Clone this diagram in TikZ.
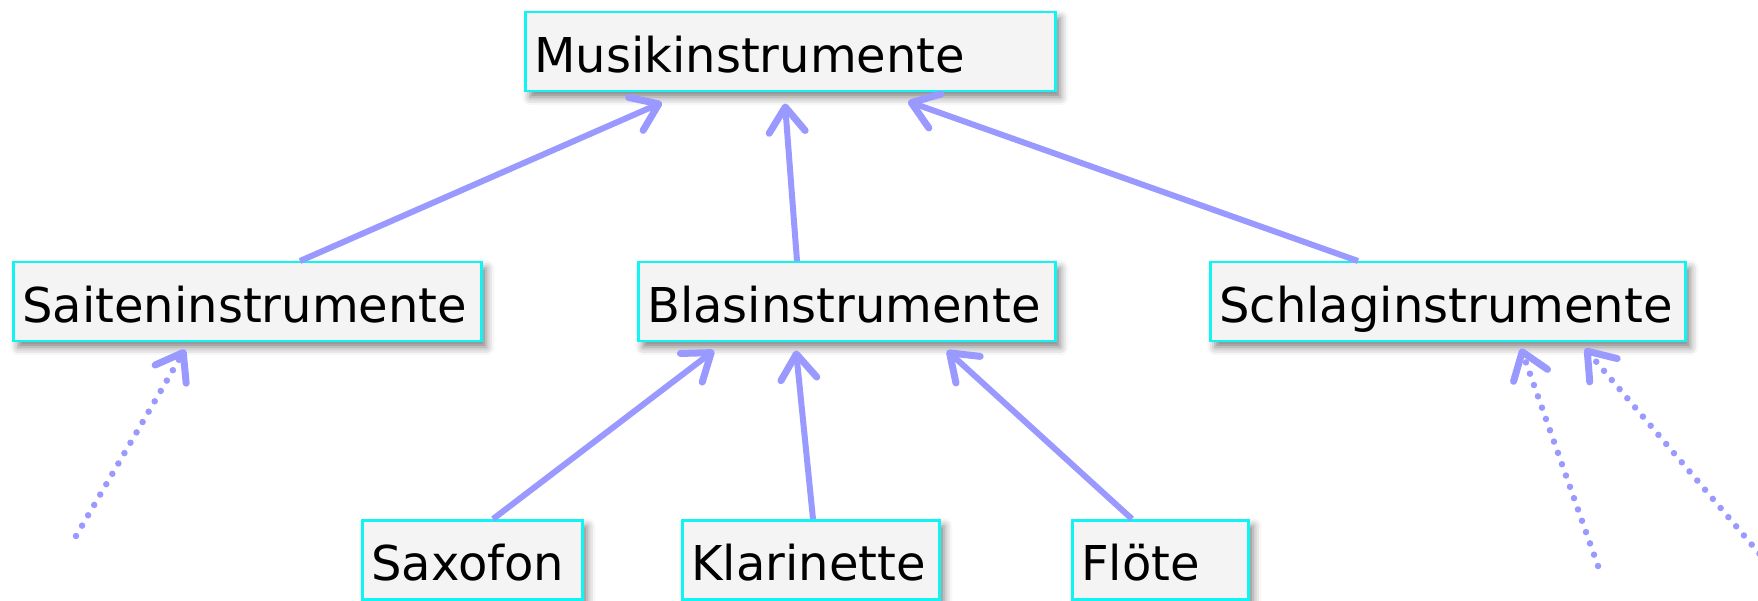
\documentclass[tikz,border=0pt]{standalone}
\usepackage{fontspec}
\setmainfont{DejaVu Sans}
\usetikzlibrary{arrows.meta,calc,shadows.blur}
\definecolor{edgeblue}{HTML}{9999FF}
\definecolor{boxcyan}{HTML}{10F4F4}
\definecolor{boxfill}{HTML}{F4F4F4}
\begin{document}
\begin{tikzpicture}[x=1pt,y=1pt,
  cls/.style={draw=boxcyan, line width=2.5pt, fill=boxfill, anchor=north west,
    minimum height=79pt, inner xsep=9pt, inner ysep=0pt,
    text height=41pt, text depth=0pt, align=left,
    font=\fontsize{48}{56}\selectfont,
    blur shadow={shadow xshift=5pt, shadow yshift=-6pt,
      shadow blur radius=8pt, shadow opacity=50}},
  inherit/.style={draw=edgeblue, line width=6pt,
    -{Straight Barb[length=25pt,width=36pt,line width=7pt,round]}},
  dep/.style={inherit, line width=6.5pt, dash pattern=on 0pt off 12pt, line cap=round}]
\useasboundingbox (0,0) rectangle (1758,600);

% class boxes
\node[cls, text width=512pt] (musik)  at (524,589)  {Musikinstrumente};
\node[cls, text width=450pt] (sait)   at (12,339)   {Saiteninstrumente};
\node[cls, text width=399pt] (blas)   at (637,339)  {Blasinstrumente};
\node[cls, text width=457pt] (schlag) at (1209,339) {Schlaginstrumente};
\node[cls, text width=202pt] (saxo)   at (361,81)   {Saxofon};
\node[cls, text width=239pt] (klar)   at (681,81)   {Klarinette};
\node[cls, text width=158pt] (floete) at (1071,81)  {Flöte};

% free ends of the dotted connectors
\coordinate (d1) at (76,64);
\coordinate (d2) at (1598,34);
\coordinate (d3) at (1775,28);

% generalisation arrows
\draw[inherit] ($(sait.north west)+(288,0)$)   -- ($(musik.south west)+(138,-10)$);
\draw[inherit] ($(blas.north west)+(160,0)$)   -- ($(musik.south west)+(261,-11)$);
\draw[inherit] ($(schlag.north west)+(149,0)$) -- ($(musik.south west)+(384,-9)$);
\draw[inherit] ($(saxo.north west)+(132,0)$)   -- ($(blas.south west)+(77,-8)$);
\draw[inherit] ($(klar.north west)+(132,0)$)   -- ($(blas.south west)+(159,-8)$);
\draw[inherit] ($(floete.north west)+(61,0)$)  -- ($(blas.south west)+(310,-8)$);

% dotted arrows
\draw[dep] (d1) -- ($(sait.south west)+(173,-7)$);
\draw[dep] (d2) -- ($(schlag.south west)+(312,-6)$);
\draw[dep] (d3) -- ($(schlag.south west)+(376,-6)$);
\end{tikzpicture}
\end{document}
